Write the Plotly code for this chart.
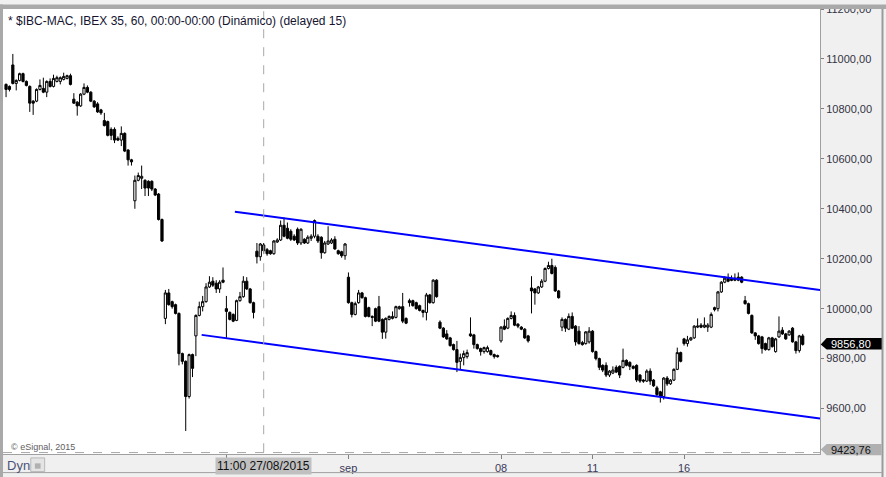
import plotly.graph_objects as go

# hourly IBEX 35 bars (one bar per trading hour)
opens = [
    10898, 10890, 10976, 10902, 10914, 10941, 10910, 10890, 10831, 10831, 10878, 10882, 10867, 10910, 10890, 10910, 10910, 10918, 10922, 10933,
    10839, 10827, 10812, 10859, 10886, 10867, 10831, 10820, 10796, 10753, 10749, 10718, 10718, 10682, 10675, 10702, 10635, 10596,
    10432, 10514, 10522, 10514, 10510, 10510, 10479, 10459, 10357,
    9961, 10063, 10028, 10016, 9981, 9820, 9789, 9648, 9816, 9891, 9973, 10008, 10028, 10087, 10110, 10102, 10079, 10114,
    10000, 9985, 9977, 9953, 10032, 10048, 10110, 10079, 10024,
    10230, 10208, 10255, 10236, 10232, 10220, 10267, 10275, 10334, 10322, 10310, 10290, 10318, 10263, 10278, 10263, 10282, 10290,
    10290, 10286, 10224, 10259, 10263, 10278, 10232, 10228, 10212,
    10126, 10024, 9977, 10024, 10063, 10044, 10004, 9969, 10000, 10008, 9957, 9906, 9957, 9961, 9965, 10000, 10008, 9961,
    10032, 10032, 10024, 10012, 9993, 9985, 10055, 10024, 10114,
    9946, 9922, 9899, 9883, 9856, 9836, 9789, 9804, 9808,
    9899, 9895, 9856, 9840, 9828, 9828, 9832, 9816, 9812,
    9871, 9930, 9922, 9961, 9973, 9938, 9926, 9918, 9891,
    10083, 10079, 10063, 10087, 10110, 10161, 10173, 10165, 10071,
    9926, 9957, 9918, 9969, 9930, 9910, 9864, 9860, 9867, 9910, 9828, 9800, 9773, 9773, 9734, 9742, 9765, 9769,
    9765, 9793, 9785, 9769, 9773, 9734, 9714, 9710, 9750, 9714, 9683, 9667, 9648, 9722, 9699, 9714, 9757, 9824,
    9879, 9860, 9875, 9883, 9926, 9934, 9926, 9926, 9926, 10004, 10000, 10067, 10106, 10122, 10118, 10122, 10126, 10126,
    10032, 10020, 9973, 9903, 9891, 9887, 9860, 9836, 9883, 9828, 9887, 9914, 9899, 9895, 9922, 9867, 9832, 9891,
]
highs = [
    10902, 10894, 11020, 10918, 10945, 10945, 10914, 10894, 10835, 10882, 10918, 10925, 10914, 10922, 10937, 10933, 10930, 10945, 10937, 10941,
    10863, 10831, 10863, 10902, 10894, 10871, 10835, 10827, 10800, 10784, 10753, 10726, 10726, 10690, 10730, 10706, 10639, 10600,
    10533, 10545, 10573, 10518, 10514, 10514, 10483, 10463, 10361,
    10075, 10079, 10032, 10020, 9985, 9824, 9793, 9820, 9820, 9977, 10028, 10051, 10102, 10130, 10126, 10114, 10114, 10165,
    10051, 9989, 9981, 10036, 10067, 10130, 10126, 10083, 10028,
    10263, 10263, 10263, 10243, 10236, 10275, 10282, 10353, 10365, 10345, 10318, 10298, 10325, 10322, 10282, 10294, 10298, 10357,
    10298, 10290, 10271, 10330, 10282, 10290, 10236, 10232, 10263,
    10145, 10028, 10028, 10075, 10067, 10048, 10008, 9973, 10004, 10051, 9961, 9965, 9973, 9989, 10012, 10012, 10063, 9965,
    10040, 10036, 10028, 10016, 9996, 10063, 10059, 10118, 10118,
    9953, 9926, 9914, 9887, 9860, 9871, 9820, 9832, 9836,
    9965, 9899, 9860, 9844, 9848, 9852, 9836, 9820, 9816,
    9930, 9957, 9965, 9989, 9985, 9942, 9930, 9922, 9895,
    10130, 10083, 10091, 10118, 10165, 10188, 10200, 10173, 10075,
    9965, 9961, 9981, 9985, 9934, 9930, 9871, 9910, 9926, 9914, 9832, 9804, 9777, 9785, 9754, 9769, 9773, 9773,
    9840, 9797, 9789, 9773, 9777, 9738, 9718, 9757, 9761, 9718, 9691, 9671, 9726, 9730, 9718, 9761, 9844, 9828,
    9883, 9891, 9887, 9934, 9961, 9942, 9965, 9942, 9985, 10008, 10071, 10110, 10130, 10141, 10133, 10141, 10145, 10130,
    10051, 10024, 9977, 9906, 9895, 9891, 9864, 9887, 9887, 9883, 9969, 9926, 9903, 9914, 9926, 9871, 9895, 9899,
]
lows = [
    10847, 10870, 10898, 10874, 10910, 10906, 10890, 10788, 10776, 10827, 10874, 10863, 10847, 10886, 10886, 10906, 10898, 10914, 10918, 10894,
    10820, 10773, 10808, 10855, 10863, 10827, 10804, 10784, 10776, 10730, 10690, 10675, 10663, 10671, 10651, 10627, 10573, 10573,
    10400, 10510, 10479, 10451, 10451, 10471, 10451, 10353, 10267,
    9938, 10012, 10000, 9977, 9773, 9777, 9510, 9640, 9726, 9810, 9969, 9989, 10024, 10083, 10087, 10063, 10063, 10102,
    9883, 9953, 9946, 9950, 10028, 10044, 10075, 10020, 9961,
    10181, 10192, 10220, 10212, 10216, 10216, 10263, 10271, 10286, 10278, 10271, 10271, 10255, 10255, 10259, 10259, 10271, 10282,
    10263, 10200, 10220, 10255, 10259, 10236, 10216, 10204, 10196,
    10020, 9965, 9973, 10020, 10040, 9965, 9965, 9930, 9946, 9946, 9879, 9880, 9953, 9957, 9961, 9996, 9942, 9938,
    10008, 10008, 9996, 9989, 9965, 9953, 10020, 10020, 10044,
    9918, 9883, 9875, 9848, 9832, 9746, 9754, 9773, 9800,
    9887, 9840, 9836, 9812, 9820, 9824, 9812, 9800, 9804,
    9864, 9914, 9918, 9957, 9930, 9922, 9914, 9879, 9864,
    9981, 10016, 10059, 10083, 10106, 10157, 10137, 10067, 10040,
    9910, 9907, 9914, 9918, 9852, 9856, 9852, 9856, 9860, 9824, 9793, 9754, 9746, 9726, 9726, 9738, 9742, 9722,
    9761, 9769, 9754, 9757, 9706, 9703, 9703, 9706, 9695, 9687, 9648, 9624, 9636, 9691, 9695, 9710, 9754, 9785,
    9852, 9848, 9871, 9879, 9922, 9922, 9922, 9907, 9922, 9989, 9989, 10063, 10102, 10106, 10110, 10110, 10110, 10102,
    10016, 9977, 9899, 9875, 9856, 9820, 9832, 9832, 9844, 9824, 9883, 9895, 9875, 9891, 9864, 9820, 9824, 9852,
]
closes = [
    10878, 10878, 10902, 10914, 10941, 10910, 10894, 10823, 10823, 10878, 10894, 10867, 10910, 10890, 10922, 10925, 10925, 10930, 10933, 10898,
    10823, 10812, 10859, 10886, 10867, 10831, 10808, 10788, 10784, 10733, 10694, 10694, 10675, 10675, 10702, 10631, 10596, 10588,
    10514, 10533, 10530, 10483, 10483, 10479, 10455, 10357, 10271,
    10063, 10016, 10008, 9981, 9820, 9789, 9648, 9816, 9761, 9973, 10008, 10028, 10087, 10106, 10094, 10079, 10106, 10106,
    9989, 9957, 9950, 10032, 10048, 10110, 10079, 10024, 9985,
    10208, 10259, 10232, 10220, 10220, 10271, 10275, 10334, 10290, 10282, 10278, 10275, 10263, 10318, 10263, 10286, 10290, 10353,
    10271, 10224, 10263, 10271, 10275, 10239, 10220, 10212, 10259,
    10024, 9977, 10020, 10063, 10044, 9969, 9969, 9965, 9950, 9950, 9906, 9961, 9969, 9969, 10008, 10008, 9950, 9942,
    10024, 10012, 10000, 9993, 9985, 10055, 10024, 10114, 10048,
    9922, 9887, 9879, 9852, 9836, 9785, 9804, 9820, 9824,
    9891, 9856, 9840, 9828, 9844, 9844, 9816, 9808, 9808,
    9926, 9918, 9961, 9973, 9934, 9930, 9918, 9883, 9871,
    10071, 10063, 10087, 10110, 10161, 10173, 10141, 10071, 10044,
    9957, 9922, 9969, 9922, 9867, 9860, 9856, 9907, 9910, 9828, 9800, 9765, 9754, 9734, 9750, 9754, 9746, 9734,
    9793, 9773, 9769, 9761, 9714, 9710, 9710, 9750, 9710, 9691, 9656, 9648, 9722, 9699, 9714, 9757, 9824, 9789,
    9860, 9875, 9883, 9930, 9930, 9926, 9934, 9934, 9977, 9996, 10067, 10106, 10122, 10110, 10114, 10114, 10114, 10106,
    10020, 9981, 9903, 9891, 9860, 9840, 9836, 9883, 9848, 9879, 9910, 9899, 9879, 9910, 9867, 9832, 9891, 9856.8,
]
bars = list(range(len(closes)))

# x axis day marks (bar index of the first hour of the day)
tick_bars = [65, 101, 146, 173, 200]
tick_text = ["", "sep", "08", "11", "16"]
price_ticks = [9600, 9800, 10000, 10200, 10400, 10600, 10800, 11000, 11200]

cursor_bar = 76
cursor_text = "11:00 27/08/2015"
last_price = 9856.80
low_price = 9423.76

# drawn channel (bar index, price)
upper_x = [67.5, 240.1]
upper_y = [10388, 10075]
lower_x = [57.7, 240.1]
lower_y = [9895, 9560]

FONT = "Liberation Sans, Arial, sans-serif"


def fmt(v):
    return f"{v:.2f}".replace(".", ",")


fig = go.Figure()

fig.add_trace(go.Candlestick(
    x=bars, open=opens, high=highs, low=lows, close=closes,
    increasing=dict(line=dict(color="black", width=1), fillcolor="white"),
    decreasing=dict(line=dict(color="black", width=1), fillcolor="black"),
    whiskerwidth=0, hoverinfo="skip",
))
for xs, ys in [(upper_x, upper_y), (lower_x, lower_y)]:
    fig.add_trace(go.Scatter(x=xs, y=ys, mode="lines", line=dict(color="#0000ff", width=2),
                             hoverinfo="skip"))

shapes = [
    # cursor + low price dashed lines
    dict(type="line", xref="x", yref="paper", x0=cursor_bar, x1=cursor_bar, y0=0.004, y1=1,
         line=dict(color="#a8a8a8", width=1, dash="dash")),
    dict(type="line", xref="paper", yref="y", x0=0, x1=1, y0=low_price, y1=low_price,
         line=dict(color="#a8a8a8", width=1, dash="dash")),
    # window borders
    dict(type="rect", xref="paper", yref="paper", x0=-0.01, x1=0, y0=-0.06, y1=1.01,
         fillcolor="#a9a9a9", line=dict(width=0)),
    dict(type="rect", xref="paper", yref="paper", x0=-0.01, x1=1.1, y0=1, y1=1.01,
         fillcolor="#a9a9a9", line=dict(width=0)),
    dict(type="line", xref="paper", yref="paper", x0=1.0765, x1=1.0765, y0=-0.06, y1=1,
         line=dict(color="#9a9a9a", width=2)),
    dict(type="line", xref="paper", yref="paper", x0=0, x1=1.0765, y0=-0.0418, y1=-0.0418,
         line=dict(color="#a0a0a0", width=1)),
    # last price tag
    dict(type="path", xref="paper", yref="y",
         path="M 1.0009,9856.8 L 1.0082,9883 L 1.0755,9883 L 1.0755,9836 L 1.0082,9836 Z",
         fillcolor="black", line=dict(width=0)),
    # lowest visible price tag
    dict(type="path", xref="paper", yref="paper",
         path="M 1.0009,0.0099 L 1.0082,0.0227 L 1.0755,0.0227 L 1.0755,-0.003 L 1.0082,-0.003 Z",
         fillcolor="#b0b0b0", line=dict(width=0)),
    # lock button
    dict(type="rect", xref="paper", yref="paper", x0=0.034, x1=0.051, y0=-0.0396, y1=-0.0088,
         fillcolor="#e4e4e4", line=dict(color="#b8b8b8", width=1)),
    dict(type="rect", xref="paper", yref="paper", x0=0.039, x1=0.046, y0=-0.033, y1=-0.021,
         fillcolor="#b0b0b0", line=dict(width=0)),
]

annotations = [
    dict(text="* $IBC-MAC, IBEX 35, 60, 00:00-00:00 (Dinámico) (delayed 15)", xref="paper", yref="paper",
         x=0.0037, y=0.9736, xanchor="left", yanchor="middle", showarrow=False,
         font=dict(family=FONT, size=12, color="#141430")),
    dict(text="© eSignal, 2015", xref="paper", yref="paper", x=0.007, y=0.0165,
         xanchor="left", yanchor="middle", showarrow=False,
         font=dict(family=FONT, size=9, color="#606060")),
    dict(text="Dyn", xref="paper", yref="paper", x=0.0025, y=-0.025, xanchor="left", yanchor="middle",
         showarrow=False, font=dict(family=FONT, size=13, color="#4a5478")),
    dict(text=cursor_text, xref="x", yref="paper", x=cursor_bar, y=-0.0265, xanchor="center",
         yanchor="middle", showarrow=False, bgcolor="#c0c0c0", borderpad=1,
         font=dict(family=FONT, size=12, color="#111111")),
    dict(text=fmt(last_price), xref="paper", yref="y", x=1.0105, y=last_price, xanchor="left",
         yanchor="middle", showarrow=False, font=dict(family=FONT, size=11, color="white")),
    dict(text=fmt(low_price), xref="paper", yref="paper", x=1.0105, y=0.0099, xanchor="left",
         yanchor="middle", showarrow=False, font=dict(family=FONT, size=11, color="#111111")),
]

fig.update_layout(
    width=886, height=477,
    margin=dict(l=3, r=66, t=3, b=20),
    paper_bgcolor="#f0f0f0", plot_bgcolor="white",
    showlegend=False, boxgap=0.35, boxgroupgap=0,
    shapes=shapes, annotations=annotations,
    xaxis=dict(
        range=[-0.9, 240.1], rangeslider=dict(visible=False),
        tickvals=tick_bars, ticktext=tick_text,
        ticks="outside", ticklen=4, tickcolor="#808080",
        showgrid=False, zeroline=False, showline=True, linecolor="#a0a0a0",
        tickfont=dict(family=FONT, size=11, color="#3a3a5a"),
    ),
    yaxis=dict(
        side="right", range=[9418, 11200],
        tickvals=price_ticks, ticktext=[fmt(v) for v in price_ticks],
        ticks="outside", ticklen=3, tickcolor="#808080", ticklabeloverflow="allow",
        showgrid=False, zeroline=False, showline=True, linecolor="#a0a0a0",
        tickfont=dict(family=FONT, size=11, color="#333344"),
    ),
)

# page body has a default 8px margin; drop it so the chart sits at the window corner
fig.write_html("out.html", config={"displayModeBar": False},
               post_script="document.body.style.margin='0';")
